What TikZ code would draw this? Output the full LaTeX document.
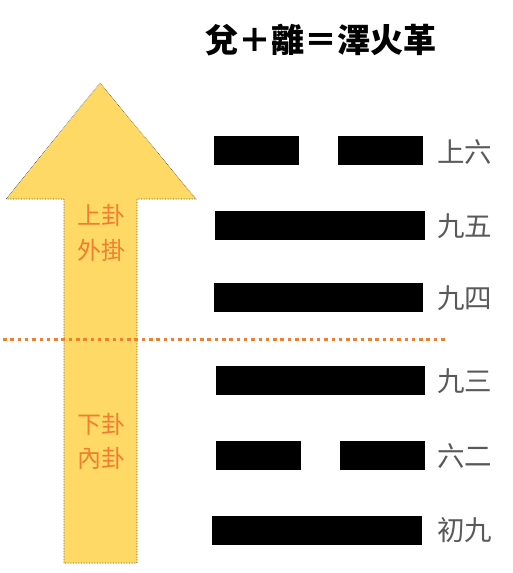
\documentclass[tikz,border=0pt]{standalone}
\usepackage{fontspec}
\newfontfamily\cjk{Noto Sans CJK TC}
\definecolor{arrowfill}{HTML}{FFD966}
\definecolor{lbl}{HTML}{EF7F2F}
\definecolor{graytext}{HTML}{595959}
\begin{document}
\begin{tikzpicture}[x=1pt,y=-1pt,
  bar/.style={fill=black,inner sep=0pt,minimum height=29pt,anchor=north west},
  yao/.style={font=\cjk\fontsize{27.5}{27.5}\selectfont,text=graytext,anchor=west,inner sep=0pt},
  gua/.style={font=\cjk\fontsize{24}{24}\selectfont,text=lbl,inner sep=0pt}]
\useasboundingbox (0,0) rectangle (512,573);
% title
\node[font=\cjk\bfseries\fontsize{33}{33}\selectfont,inner sep=0pt] (title) at (321,40) {兌＋離＝澤火革};
% arrow
\draw[fill=arrowfill,draw=black!70,densely dotted,line width=0.6pt]
  (100,83) -- (196,199) -- (137,199) -- (137,563) -- (64,563) -- (64,199) -- (6,199) -- cycle;
\node[gua] (g1) at (101,215) {上卦};
\node[gua] (g2) at (101,250) {外掛};
\node[gua] (g3) at (101,424) {下卦};
\node[gua] (g4) at (101,458) {內卦};
% divider
\coordinate (d1) at (3,339);
\coordinate (d2) at (447,339);
\draw[lbl,line width=3pt,dash pattern=on 3.5pt off 3.8pt] (d1) -- (d2);
% lines
\node[bar,minimum width=85pt] (l6a) at (214,136) {};
\node[bar,minimum width=85pt] (l6b) at (338,136) {};
\node[bar,minimum width=210pt] (l5) at (215,211) {};
\node[bar,minimum width=209pt] (l4) at (214,283) {};
\node[bar,minimum width=209pt] (l3) at (216,366) {};
\node[bar,minimum width=85pt] (l2a) at (216,441) {};
\node[bar,minimum width=85pt] (l2b) at (340,441) {};
\node[bar,minimum width=210pt] (l1) at (212,516) {};
% labels
\node[yao] (t6) at (437,152) {上六};
\node[yao] (t5) at (437,226) {九五};
\node[yao] (t4) at (437,298) {九四};
\node[yao] (t3) at (437,381) {九三};
\node[yao] (t2) at (437,456) {六二};
\node[yao] (t1) at (437,530) {初九};
\end{tikzpicture}
\end{document}
